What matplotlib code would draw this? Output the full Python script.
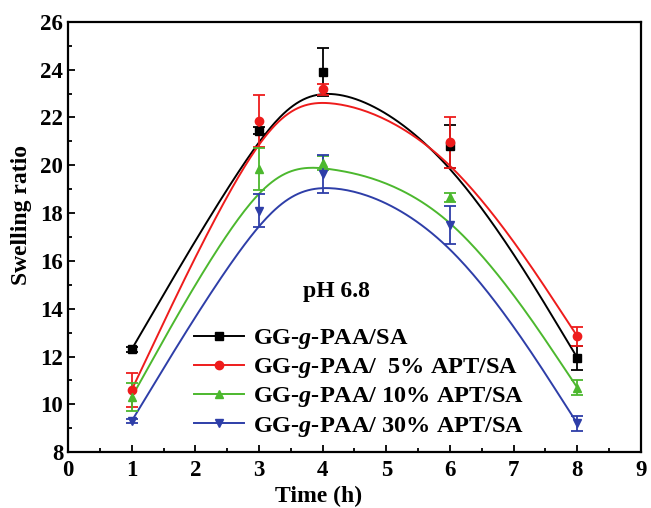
import numpy as np
import matplotlib as mpl
mpl.use('Agg')
import matplotlib.pyplot as plt
from matplotlib.ticker import MultipleLocator

plt.rc('font', family='Liberation Serif', weight='bold')
mpl.rcParams['mathtext.fontset'] = 'custom'
mpl.rcParams['mathtext.it'] = 'Liberation Serif:italic:bold'
mpl.rcParams['mathtext.rm'] = 'Liberation Serif:bold'

time_h = [1, 3, 4, 6, 8]

sr_0 = [12.3, 21.45, 23.9, 20.8, 11.95]
err_0 = [0.1, 0.15, 1.0, 0.9, 0.5]
sr_5 = [10.6, 21.85, 23.17, 20.96, 12.85]
err_5 = [0.7, 1.1, 0.25, 1.07, 0.4]
sr_10 = [10.3, 19.85, 20.1, 18.66, 10.7]
err_10 = [0.6, 0.87, 0.3, 0.2, 0.3]
sr_30 = [9.3, 18.1, 19.65, 17.5, 9.2]
err_30 = [0.1, 0.7, 0.8, 0.8, 0.3]

labels = ['GG-$g$-PAA/SA',
          'GG-$g$-PAA/  5% APT/SA',
          'GG-$g$-PAA/ 10% APT/SA',
          'GG-$g$-PAA/ 30% APT/SA']
colors = ['black', '#ee1c1c', '#4cb82e', '#2e3ea8']
markers = ['s', 'o', '^', 'v']


def bspline(px, py, n=50):
    # uniform cubic B-spline using the points as control points,
    # end points tripled so the curve starts and ends on them
    P = np.column_stack([px, py]).astype(float)
    C = np.vstack([P[:1], P[:1], P, P[-1:], P[-1:]])
    t = np.linspace(0, 1, n)[:, None]
    b0 = (1 - t) ** 3 / 6.0
    b1 = (3 * t ** 3 - 6 * t ** 2 + 4) / 6.0
    b2 = (-3 * t ** 3 + 3 * t ** 2 + 3 * t + 1) / 6.0
    b3 = t ** 3 / 6.0
    segs = [b0 * C[i] + b1 * C[i + 1] + b2 * C[i + 2] + b3 * C[i + 3]
            for i in range(len(C) - 3)]
    curve = np.vstack(segs)
    return curve[:, 0], curve[:, 1]


fig = plt.figure(figsize=(6.51, 5.08), dpi=100)
ax = fig.add_axes([0.1045, 0.110, 0.880, 0.847])

series = [(sr_0, err_0), (sr_5, err_5), (sr_10, err_10), (sr_30, err_30)]
handles = []
for (y, e), c, m, lab in zip(series, colors, markers, labels):
    ax.errorbar(time_h, y, yerr=e, fmt=m, color=c, ms=6, capsize=4,
                elinewidth=1.3, capthick=1.3, zorder=3)
    cx, cy = bspline(time_h, y)
    ax.plot(cx, cy, color=c, lw=1.4, zorder=2)
    h, = ax.plot([], [], color=c, marker=m, ms=6, lw=1.4, label=lab)
    handles.append(h)

ax.set_xlim(0, 9)
ax.set_ylim(8, 26)
ax.xaxis.set_major_locator(MultipleLocator(1))
ax.xaxis.set_minor_locator(MultipleLocator(0.5))
ax.yaxis.set_major_locator(MultipleLocator(2))
ax.yaxis.set_minor_locator(MultipleLocator(1))
ax.tick_params(which='both', direction='in', labelsize=16.5, width=1.3)
ax.tick_params(axis='x', pad=6)
ax.tick_params(which='major', length=5)
ax.tick_params(which='minor', length=3)
for s in ax.spines.values():
    s.set_linewidth(1.6)

ax.set_xlabel('Time (h)', fontsize=17, fontweight='bold')
ax.set_ylabel('Swelling ratio', fontsize=17, fontweight='bold')
ax.xaxis.set_label_coords(0.437, -0.079)
ax.yaxis.set_label_coords(-0.063, 0.55)

ax.text(4.21, 14.7, 'pH 6.8', fontsize=17, fontweight='bold', ha='center', va='center')

leg = ax.legend(handles=handles, loc='lower left', bbox_to_anchor=(0.19, -0.008),
                frameon=False, fontsize=17.5, handlelength=2.05, handletextpad=0.37,
                labelspacing=0.21, borderpad=0.2)

fig.savefig('out.png', dpi=100)
